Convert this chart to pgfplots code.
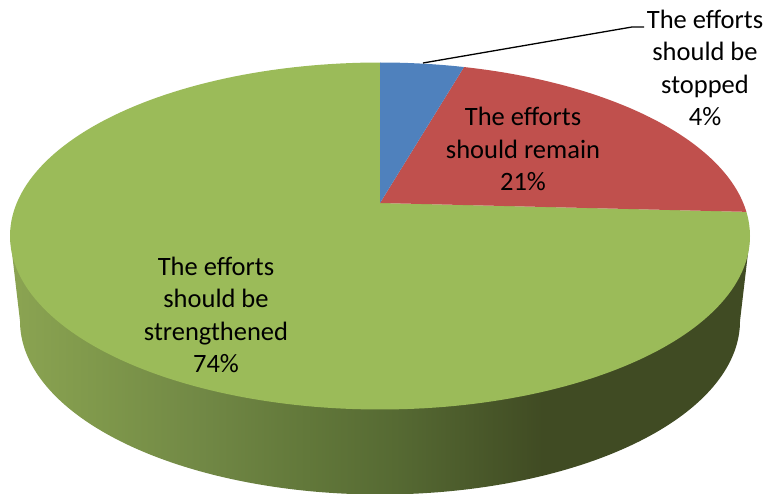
\documentclass[border=0pt]{standalone}
\usepackage{pgfplots}
\pgfplotsset{compat=1.18}
\usepackage{fontspec}
\setmainfont{Carlito}
\definecolor{pieblue}{HTML}{4F81BD}
\definecolor{piered}{HTML}{C0504D}
\definecolor{piegreen}{HTML}{9BBB59}
\definecolor{rimA}{HTML}{8BA452}
\definecolor{rimB}{HTML}{7F984B}
\definecolor{rimC}{HTML}{718845}
\definecolor{rimD}{HTML}{62783A}
\definecolor{rimE}{HTML}{566A33}
\definecolor{rimF}{HTML}{404B23}
% Rim of the disc: light on the left, darkest towards the right
\pgfdeclarehorizontalshading{rimshade}{100bp}{
  color(0bp)=(rimA);
  color(25bp)=(rimA);
  color(31bp)=(rimB);
  color(38bp)=(rimC);
  color(45bp)=(rimD);
  color(51bp)=(rimE);
  color(61bp)=(rimF);
  color(75bp)=(rimF);
  color(100bp)=(rimF)}
\begin{document}
\begin{tikzpicture}
\begin{axis}[
  scale only axis, width=765pt, height=494pt,
  xmin=0, xmax=765, ymin=0, ymax=494, y dir=reverse,
  hide axis, clip=true,
  every axis plot/.append style={no marks, samples=181},
]
% Shares in percent; the swept angle is their cumulative share
\pgfmathsetmacro{\stopped}{4}
\pgfmathsetmacro{\remain}{21}
\pgfmathsetmacro{\perpct}{3.28}
\pgfmathsetmacro{\angA}{\stopped*\perpct}
\pgfmathsetmacro{\angB}{(\stopped+\remain)*\perpct}
% Rim
\addplot[draw=none, shading=rimshade, variable=\t, domain=90:270]
  ({380+360*sin(\t)},{321-173.5*cos(\t)})
  -- (axis cs:10,236) -- (axis cs:750,236) -- cycle;
% Top face wedges
\addplot[draw=none, fill=piegreen, variable=\t, domain=\angB:360]
  ({380+370*sin(\t)},{236-173.5*cos(\t)}) -- (axis cs:380,203) -- cycle;
\addplot[draw=none, fill=piered, variable=\t, domain=\angA:\angB]
  ({380+370*sin(\t)},{236-173.5*cos(\t)}) -- (axis cs:380,203) -- cycle;
\addplot[draw=none, fill=pieblue, variable=\t, domain=0:\angA]
  ({380+370*sin(\t)},{236-173.5*cos(\t)}) -- (axis cs:380,203) -- cycle;
% Leader line to the outside label
\addplot[black, line width=1.3pt] coordinates {(423,63) (632,27) (644,27)};
% Labels
\node[align=center, font=\fontsize{26.5}{32.5}\selectfont, inner sep=0pt] at (axis cs:705,68)
  {The efforts\\should be\\stopped\\4\%};
\node[align=center, font=\fontsize{26.5}{32.5}\selectfont, inner sep=0pt] at (axis cs:523,149)
  {The efforts\\should remain\\21\%};
\node[align=center, font=\fontsize{26.5}{32.5}\selectfont, inner sep=0pt] at (axis cs:216,315)
  {The efforts\\should be\\strengthened\\74\%};
\end{axis}
% The page covers the whole plotting window
\path[use as bounding box] (current axis.south west) rectangle (current axis.north east);
\end{tikzpicture}
\end{document}
